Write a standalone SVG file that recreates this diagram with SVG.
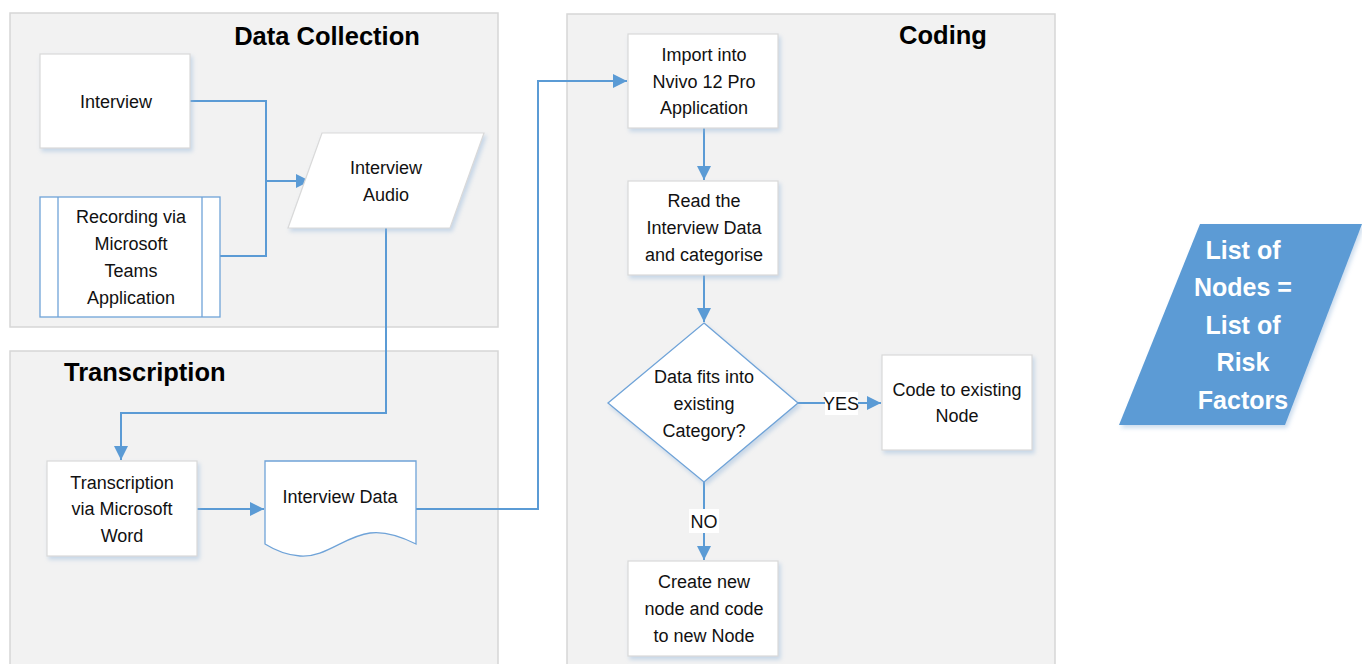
<svg xmlns="http://www.w3.org/2000/svg" width="1362" height="664" viewBox="0 0 1362 664">
<style>
.panel{fill:#f2f2f2;stroke:#d6d6d6;stroke-width:1.5}
.title{font-family:"Liberation Sans",Arial,sans-serif;font-weight:bold;font-size:25.5px;fill:#000}
.box{fill:#fff;stroke:#d9d9d9;stroke-width:1.2}
.bbox{fill:#fff;stroke:#6fa3d8;stroke-width:1.3}
.t{font-family:"Liberation Sans",Arial,sans-serif;font-size:18px;fill:#111;text-anchor:middle}
.c{fill:none;stroke:#5b9bd5;stroke-width:2}
.w{font-family:"Liberation Sans",Arial,sans-serif;font-weight:bold;font-size:25px;fill:#fff;text-anchor:middle}
</style>
<defs>
<marker id="ah" viewBox="0 0 10 10" refX="10" refY="5" markerWidth="7" markerHeight="7" markerUnits="strokeWidth" orient="auto">
<path d="M0,0 L10,5 L0,10 Z" fill="#5b9bd5"/>
</marker>
<filter id="sh" x="-10%" y="-10%" width="130%" height="130%">
<feDropShadow dx="2" dy="3" stdDeviation="2" flood-color="#8fb3d9" flood-opacity="0.45"/>
</filter>
</defs>
<rect width="1362" height="664" fill="#fff"/>
<g id="panel-data-collection">
<rect class="panel" x="10" y="13" width="488" height="314"/>
<text class="title" x="327" y="45" text-anchor="middle">Data Collection</text>
</g>
<g id="panel-transcription">
<rect class="panel" x="10" y="351" width="488" height="320"/>
<text class="title" x="64" y="381">Transcription</text>
</g>
<g id="panel-coding">
<rect class="panel" x="567" y="14" width="488" height="657"/>
<text class="title" x="943" y="44" text-anchor="middle">Coding</text>
</g>
<g id="connectors">
<path class="c" d="M190,101 H266 V256 H220"/>
<path class="c" d="M266,181 H310" marker-end="url(#ah)"/>
<path class="c" d="M386,228 V413 H121 V460" marker-end="url(#ah)"/>
<path class="c" d="M197,509 H264" marker-end="url(#ah)"/>
<path class="c" d="M416,509 H538 V81 H627" marker-end="url(#ah)"/>
<path class="c" d="M704,128 V180" marker-end="url(#ah)"/>
<path class="c" d="M704,275 V322" marker-end="url(#ah)"/>
<path class="c" d="M798,403 H881" marker-end="url(#ah)"/>
<path class="c" d="M704,482 V560" marker-end="url(#ah)"/>
<rect x="825" y="392" width="33" height="23" fill="#fff"/>
<text class="t" x="841" y="410">YES</text>
<rect x="689" y="509" width="30" height="24" fill="#fff"/>
<text class="t" x="704" y="528">NO</text>
</g>
<g id="interview">
<rect class="box" x="40" y="54" width="150" height="94" filter="url(#sh)"/>
<text class="t" x="116" y="108">Interview</text>
</g>
<g id="recording">
<rect class="bbox" x="40" y="197" width="180" height="120"/>
<line x1="58" y1="197" x2="58" y2="317" stroke="#6fa3d8" stroke-width="1.3"/>
<line x1="202" y1="197" x2="202" y2="317" stroke="#6fa3d8" stroke-width="1.3"/>
<text class="t" x="131" y="223">Recording via</text>
<text class="t" x="131" y="250">Microsoft</text>
<text class="t" x="131" y="277">Teams</text>
<text class="t" x="131" y="304">Application</text>
</g>
<g id="interview-audio">
<polygon class="box" points="322,133 484,133 450,228 288,228" filter="url(#sh)"/>
<text class="t" x="386" y="174">Interview</text>
<text class="t" x="386" y="201">Audio</text>
</g>
<g id="transcription-word">
<rect class="box" x="47" y="461" width="150" height="95" filter="url(#sh)"/>
<text class="t" x="122" y="489">Transcription</text>
<text class="t" x="122" y="515">via Microsoft</text>
<text class="t" x="122" y="542">Word</text>
</g>
<g id="interview-data">
<path class="bbox" d="M265,461 H416 V544 C400,536 385,531 370,533 C345,536 325,558 300,556 C285,555 273,549 265,544 Z"/>
<text class="t" x="340" y="503">Interview Data</text>
</g>
<g id="import">
<rect class="box" x="628" y="34" width="150" height="94" filter="url(#sh)"/>
<text class="t" x="704" y="61">Import into</text>
<text class="t" x="704" y="88">Nvivo 12 Pro</text>
<text class="t" x="704" y="114">Application</text>
</g>
<g id="read">
<rect class="box" x="628" y="181" width="150" height="94" filter="url(#sh)"/>
<text class="t" x="704" y="207">Read the</text>
<text class="t" x="704" y="234">Interview Data</text>
<text class="t" x="704" y="261">and categorise</text>
</g>
<g id="decision">
<polygon class="bbox" points="704,323 798,403 704,482 608,403" filter="url(#sh)"/>
<text class="t" x="704" y="383">Data fits into</text>
<text class="t" x="704" y="410">existing</text>
<text class="t" x="704" y="437">Category?</text>
</g>
<g id="code-existing">
<rect class="box" x="882" y="355" width="150" height="95" filter="url(#sh)"/>
<text class="t" x="957" y="396">Code to existing</text>
<text class="t" x="957" y="422">Node</text>
</g>
<g id="create-new">
<rect class="box" x="628" y="561" width="150" height="95" filter="url(#sh)"/>
<text class="t" x="704" y="588">Create new</text>
<text class="t" x="704" y="615">node and code</text>
<text class="t" x="704" y="642">to new Node</text>
</g>
<g id="list-of-nodes">
<polygon points="1200,224 1362,224 1285,425 1119,425" fill="#5b9bd5" filter="url(#sh)"/>
<text class="w" x="1243" y="259">List of</text>
<text class="w" x="1243" y="296">Nodes =</text>
<text class="w" x="1243" y="334">List of</text>
<text class="w" x="1243" y="371">Risk</text>
<text class="w" x="1243" y="409">Factors</text>
</g>
</svg>
